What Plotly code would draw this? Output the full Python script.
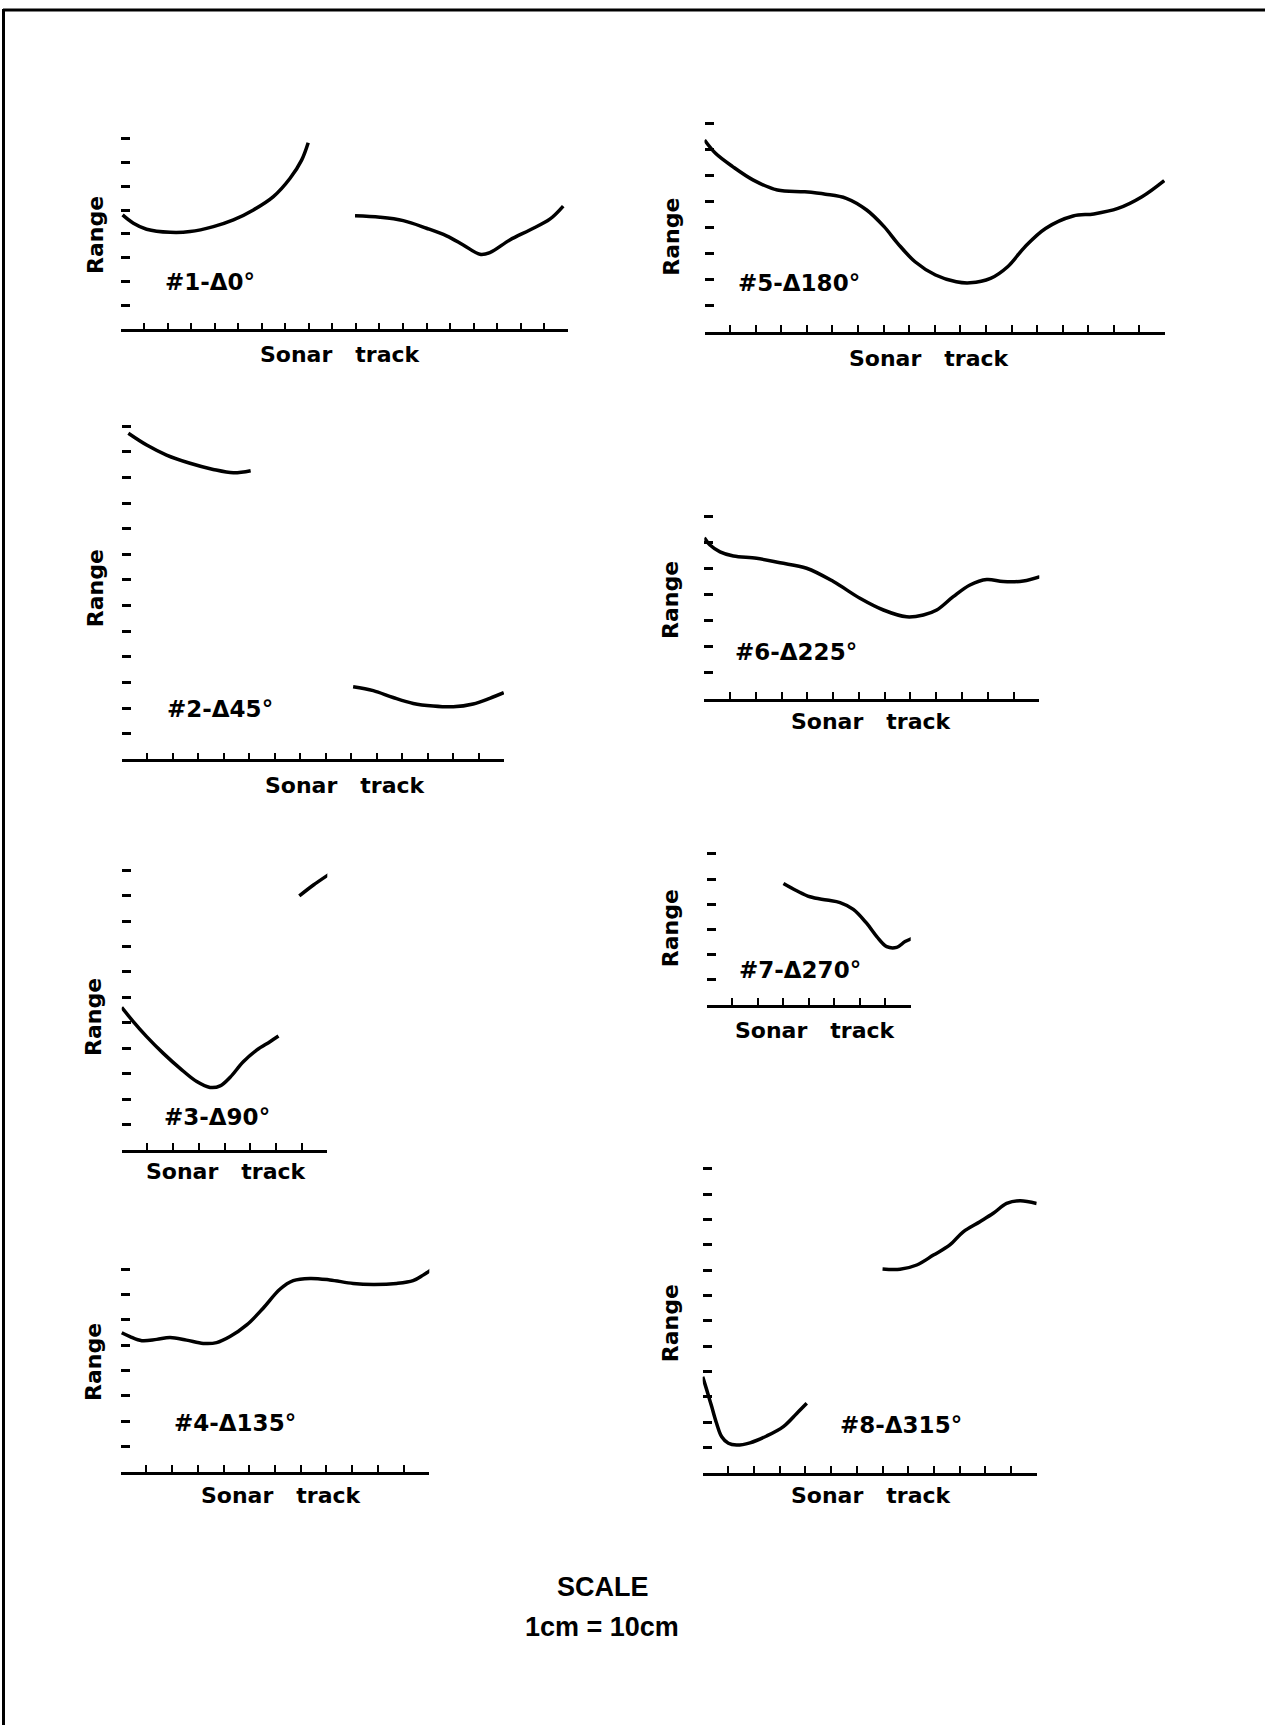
import plotly.graph_objects as go

# ---------------- DATA (x in sonar-track tick units, y in range tick units) ----------------
panel_labels = ["#1-Δ0°", "#2-Δ45°", "#3-Δ90°", "#4-Δ135°",
                "#5-Δ180°", "#6-Δ225°", "#7-Δ270°", "#8-Δ315°"]
axis_x_title = "Sonar track"
axis_y_title = "Range"
scale_title = "SCALE"
scale_text = "1cm = 10cm"

track_1a = [0.08, 0.54, 1.10, 2.10, 2.95, 3.94, 4.79, 5.64, 6.49, 7.20, 7.69, 7.97]
range_1a = [4.80, 4.45, 4.20, 4.07, 4.10, 4.31, 4.59, 5.01, 5.57, 6.34, 7.10, 7.83]
track_1b = [9.96, 11.02, 12.01, 13.00, 13.85, 14.56, 15.27, 15.69, 16.54, 17.39, 18.24, 18.81]
range_1b = [4.76, 4.70, 4.56, 4.24, 3.92, 3.54, 3.15, 3.22, 3.75, 4.17, 4.62, 5.17]

track_2a = [0.26, 0.98, 1.76, 2.68, 3.59, 4.38, 5.06]
range_2a = [12.72, 12.26, 11.87, 11.55, 11.31, 11.18, 11.26]
track_2b = [9.08, 9.87, 10.65, 11.44, 12.22, 13.01, 13.79, 14.44, 14.99]
range_2b = [2.83, 2.68, 2.41, 2.18, 2.08, 2.05, 2.16, 2.38, 2.60]

track_3a = [0.0, 0.45, 0.97, 1.62, 2.27, 2.92, 3.44, 3.83, 4.22, 4.73, 5.25, 5.77, 6.10]
range_3a = [5.61, 5.05, 4.46, 3.80, 3.21, 2.69, 2.46, 2.52, 2.86, 3.47, 3.93, 4.26, 4.48]
track_3b = [6.91, 7.46, 8.08]
range_3b = [9.99, 10.42, 10.85]

track_4 = [0.04, 0.36, 0.82, 1.40, 1.92, 2.56, 3.21, 3.73, 4.25, 4.90, 5.54, 6.19, 6.71,
           7.36, 8.13, 9.04, 9.82, 10.73, 11.37, 11.76, 12.15]
range_4 = [5.49, 5.34, 5.18, 5.23, 5.30, 5.20, 5.07, 5.10, 5.34, 5.80, 6.46, 7.21, 7.55,
           7.64, 7.58, 7.44, 7.40, 7.44, 7.55, 7.77, 8.04]

track_5 = [0.0, 0.43, 1.10, 1.91, 2.85, 3.92, 4.73, 5.54, 6.34, 7.02, 7.55, 8.23, 9.03,
           9.84, 10.38, 11.18, 11.85, 12.53, 13.33, 14.41, 15.22, 16.16, 17.10, 17.97]
range_5 = [7.37, 6.86, 6.35, 5.83, 5.45, 5.38, 5.29, 5.13, 4.68, 4.04, 3.40, 2.69, 2.18,
           1.92, 1.88, 2.05, 2.50, 3.27, 3.97, 4.45, 4.53, 4.74, 5.19, 5.81]

track_6 = [0.0, 0.22, 0.61, 1.13, 2.03, 2.94, 3.97, 5.01, 6.04, 6.95, 7.85, 8.50, 9.02,
           9.66, 10.31, 10.96, 11.60, 12.38, 13.03]
range_6 = [6.18, 5.90, 5.64, 5.48, 5.39, 5.22, 5.01, 4.50, 3.86, 3.41, 3.15, 3.22, 3.41,
           3.92, 4.37, 4.58, 4.50, 4.52, 4.69]

track_7 = [3.01, 3.53, 4.05, 4.71, 5.23, 5.75, 6.27, 6.67, 7.06, 7.45, 7.78, 8.04]
range_7 = [4.83, 4.54, 4.30, 4.17, 4.07, 3.80, 3.25, 2.72, 2.32, 2.29, 2.52, 2.64]

track_8a = [0.0, 0.16, 0.35, 0.54, 0.74, 1.00, 1.32, 1.84, 2.49, 3.14, 3.66, 4.05]
range_8a = [3.79, 3.26, 2.61, 1.95, 1.42, 1.16, 1.09, 1.18, 1.45, 1.82, 2.34, 2.74]
track_8b = [7.00, 7.68, 8.33, 8.98, 9.62, 10.14, 10.79, 11.31, 11.83, 12.35, 13.00]
range_8b = [8.04, 8.03, 8.20, 8.59, 8.99, 9.51, 9.91, 10.24, 10.63, 10.74, 10.63]

panel_curves = [
    [(track_1a, range_1a), (track_1b, range_1b)],
    [(track_2a, range_2a), (track_2b, range_2b)],
    [(track_3a, range_3a), (track_3b, range_3b)],
    [(track_4, range_4)],
    [(track_5, range_5)],
    [(track_6, range_6)],
    [(track_7, range_7)],
    [(track_8a, range_8a), (track_8b, range_8b)],
]
n_track_ticks = [20, 16, 9, 13, 19, 14, 9, 14]
n_range_ticks = [8, 13, 11, 8, 8, 7, 6, 12]
label_pos = [(1.81, 2.0), (1.70, 1.95), (1.56, 1.31), (1.98, 1.94),
             (1.24, 1.86), (1.13, 1.81), (1.18, 1.39), (5.28, 1.88)]

# ---------------- LAYOUT (pixel geometry) ----------------
W, H = 1265, 1725
# x_left, x_right, baseline, px per range unit, range-label (x,y), track-label (x,y)
geom = [
    (120.7, 567.7, 329.3, 23.83, (95.0, 235.0), (340.0, 355.0)),
    (121.7, 504.0, 759.3, 25.63, (95.0, 588.3), (345.0, 785.0)),
    (121.7, 327.3, 1150.0, 25.43, (93.3, 1016.7), (226.7, 1171.7)),
    (120.7, 429.3, 1471.7, 25.30, (93.3, 1361.7), (281.7, 1495.0)),
    (704.5, 1165.0, 331.7, 26.00, (672.0, 236.7), (929.0, 358.3)),
    (704.3, 1039.3, 699.0, 26.10, (670.0, 600.0), (871.7, 721.7)),
    (706.7, 910.7, 1005.0, 25.17, (670.0, 928.3), (815.0, 1030.0)),
    (702.7, 1036.7, 1472.7, 25.33, (670.0, 1323.3), (871.7, 1495.0)),
]

FONT = "DejaVu Sans"
INK = "#000000"

fig = go.Figure()
layout = dict(width=W, height=H, margin=dict(l=0, r=0, t=0, b=0),
              paper_bgcolor="white", plot_bgcolor="white", showlegend=False)
annotations = []

for i in range(8):
    xl, xr, base, unit, rlab, slab = geom[i]
    nx, ny = n_track_ticks[i], n_range_ticks[i]
    ytop = ny + 0.6
    suffix = "" if i == 0 else str(i + 1)
    xa, ya = "xaxis" + suffix, "yaxis" + suffix
    xref, yref = "x" + suffix, "y" + suffix
    layout[xa] = dict(domain=[xl / W, xr / W], range=[0, nx - 1], anchor=yref,
                      showgrid=False, zeroline=False, showline=True, linecolor=INK,
                      linewidth=2.5, ticks="inside", ticklen=7, tickwidth=2,
                      tickcolor=INK, tickvals=list(range(nx)), showticklabels=False)
    top_px = base - ytop * unit
    layout[ya] = dict(domain=[1 - base / H, 1 - top_px / H], range=[0, ytop], anchor=xref,
                      showgrid=False, zeroline=False, showline=False, ticks="inside",
                      ticklen=9, tickwidth=2.5, tickcolor=INK,
                      tickvals=list(range(1, ny + 1)), showticklabels=False)
    for tx, ry in panel_curves[i]:
        fig.add_trace(go.Scatter(x=tx, y=ry, mode="lines", xaxis=xref, yaxis=yref,
                                 line=dict(color=INK, width=3.5, shape="spline", smoothing=1.0),
                                 cliponaxis=False, hoverinfo="skip"))
    lx, ly = label_pos[i]
    annotations.append(dict(x=lx, y=ly, xref=xref, yref=yref, text="<b>" + panel_labels[i] + "</b>",
                            showarrow=False, xanchor="left", yanchor="middle",
                            font=dict(family=FONT, size=23, color=INK)))
    annotations.append(dict(x=rlab[0] / W, y=1 - rlab[1] / H, xref="paper", yref="paper",
                            text="<b>" + axis_y_title + "</b>", textangle=-90, showarrow=False,
                            xanchor="center", yanchor="middle",
                            font=dict(family=FONT, size=22, color=INK)))
    annotations.append(dict(x=slab[0] / W, y=1 - slab[1] / H, xref="paper", yref="paper",
                            text="<b>" + axis_x_title.replace(" ", "\u00a0\u00a0\u00a0") + "</b>",
                            showarrow=False, xanchor="center", yanchor="middle",
                            font=dict(family=FONT, size=22, color=INK)))

annotations.append(dict(x=603 / W, y=1 - 1586.7 / H, xref="paper", yref="paper",
                        text="<b>" + scale_title + "</b>", showarrow=False,
                        xanchor="center", yanchor="middle",
                        font=dict(family="Liberation Sans", size=27, color=INK)))
annotations.append(dict(x=602 / W, y=1 - 1627.3 / H, xref="paper", yref="paper",
                        text="<b>" + scale_text + "</b>", showarrow=False,
                        xanchor="center", yanchor="middle",
                        font=dict(family="Liberation Sans", size=27, color=INK)))

layout["annotations"] = annotations
layout["shapes"] = [
    dict(type="line", xref="paper", yref="paper", x0=3 / W, x1=1, y0=1 - 10 / H, y1=1 - 10 / H,
         line=dict(color=INK, width=3)),
    dict(type="line", xref="paper", yref="paper", x0=3.5 / W, x1=3.5 / W, y0=1 - 9 / H, y1=0,
         line=dict(color=INK, width=3)),
]
fig.update_layout(**layout)
fig.write_html("out.html", config={"displayModeBar": False},
               post_script="document.body.style.margin='0';document.body.style.overflow='hidden';")
